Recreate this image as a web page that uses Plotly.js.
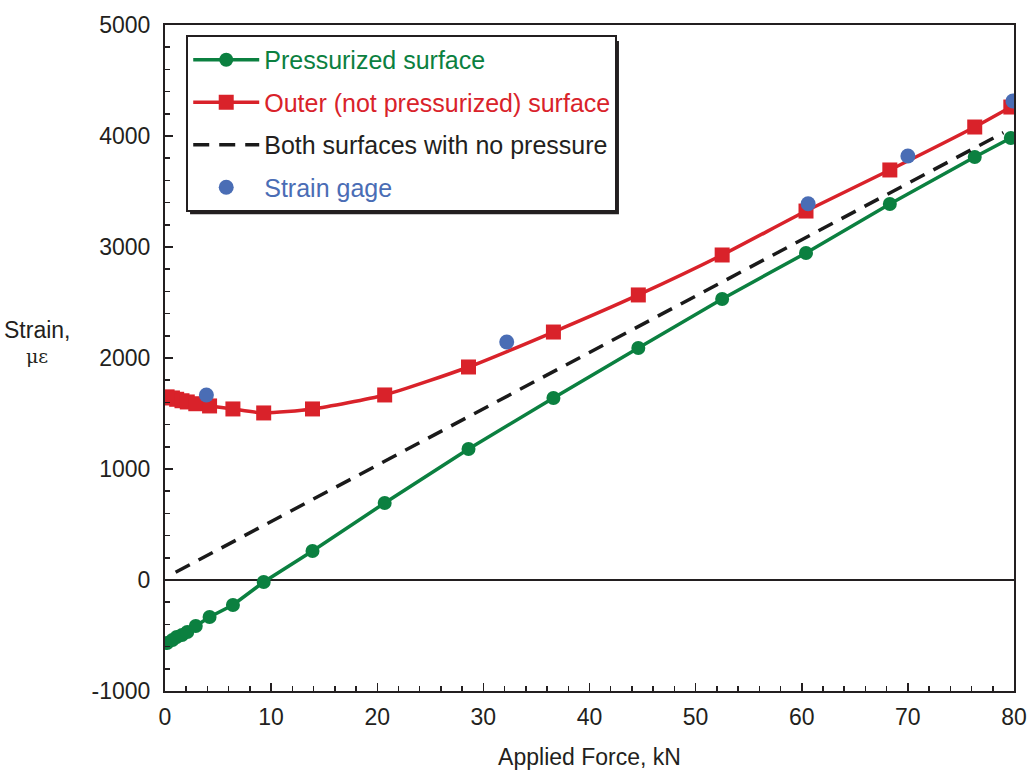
<!DOCTYPE html>
<html>
<head>
<meta charset="utf-8">
<script src="https://cdn.plot.ly/plotly-3.0.1.min.js"></script>
<style>html,body{margin:0;padding:0;background:#fff;}</style>
</head>
<body>
<div id="chart" style="width:1029px;height:770px;"></div>
<script>
// Applied force (kN)
const forceKN = [0.2, 0.7, 1.1, 1.6, 2.1, 2.9, 4.2, 6.4, 9.3, 13.9, 20.7, 28.6, 36.6, 44.6, 52.5, 60.4, 68.3, 76.3, 79.7];
// Pressurized surface strain (microstrain)
const pressurized = [-568, -541, -513, -495, -468, -414, -333, -225, -18, 261, 694, 1180, 1640, 2090, 2532, 2946, 3387, 3811, 3982];
// Outer (not pressurized) surface strain
const outer = [1650, 1640, 1628, 1615, 1604, 1588, 1568, 1541, 1505, 1541, 1667, 1919, 2234, 2568, 2928, 3324, 3694, 4081, 4261];
// Both surfaces with no pressure
const noPressureX = [1, 79];
const noPressureY = [70, 4030];
// Strain gage readings
const gageX = [3.9, 32.2, 60.6, 70.0, 79.9];
const gageY = [1667, 2144, 3390, 3820, 4315];
// Tick labels
const xTicks = [0, 10, 20, 30, 40, 50, 60, 70, 80];
const xTickText = ['0', '10', '20', '30', '40', '50', '60', '70', '80'];
const yTicks = [-1000, 0, 1000, 2000, 3000, 4000, 5000];
const yTickText = ['-1000', '0', '1000', '2000', '3000', '4000', '5000'];

const GREEN = '#0b8040', RED = '#d9222a', BLUE = '#4a6db5', INK = '#231f20';
const FONT = 'Liberation Sans, Arial, Helvetica, sans-serif';

const lbl = (t, c) => '<span style="color:' + c + '">' + t + '</span>';

const traces = [
  {x: forceKN, y: pressurized, name: lbl('Pressurized surface', GREEN), mode: 'lines+markers',
   line: {color: GREEN, width: 3.5}, marker: {symbol: 'circle', size: 14, color: GREEN},
   legendgroup: 'a'},
  {x: forceKN, y: outer, name: lbl('Outer (not pressurized) surface', RED), mode: 'lines+markers',
   line: {color: RED, width: 3.5, shape: 'spline', smoothing: 0.6}, marker: {symbol: 'square', size: 15, color: RED},
   legendgroup: 'b'},
  {x: noPressureX, y: noPressureY, name: lbl('Both surfaces with no pressure', INK), mode: 'lines',
   line: {color: '#1a1a1a', width: 3.5, dash: '16px,10px'}, legendgroup: 'c'},
  {x: gageX, y: gageY, name: lbl('Strain gage', BLUE), mode: 'markers',
   marker: {symbol: 'circle', size: 15, color: BLUE}, legendgroup: 'd'}
];

const layout = {
  width: 1029, height: 770,
  margin: {l: 165, r: 15, t: 25, b: 79},
  paper_bgcolor: '#fff', plot_bgcolor: '#fff',
  font: {family: FONT, size: 22, color: INK},
  showlegend: true,
  legend: {
    x: 0.025, y: 0.985, xanchor: 'left', yanchor: 'top',
    bgcolor: '#fff', bordercolor: INK, borderwidth: 2,
    font: {family: FONT, size: 25},
    traceorder: 'grouped', tracegroupgap: 7,
    itemwidth: 66
  },
  xaxis: {
    range: [0, 80], tickvals: xTicks, ticktext: xTickText, showgrid: false, zeroline: false,
    showline: true, linecolor: INK, linewidth: 2, mirror: true,
    ticks: 'inside', ticklen: 8, tickwidth: 1.5, tickcolor: INK,
    minor: {dtick: 2, ticks: 'inside', ticklen: 5, tickwidth: 1.5, tickcolor: INK, showgrid: false},
    tickfont: {size: 23}, ticklabelstandoff: 4,
    title: {text: 'Applied Force, kN', font: {size: 23}, standoff: 20}
  },
  yaxis: {
    range: [-1000, 5000], tickvals: yTicks, ticktext: yTickText, showgrid: false,
    zeroline: true, zerolinecolor: INK, zerolinewidth: 1.2,
    showline: true, linecolor: INK, linewidth: 2, mirror: true,
    ticks: 'inside', ticklen: 8, tickwidth: 1.5, tickcolor: INK,
    minor: {dtick: 200, ticks: 'inside', ticklen: 5, tickwidth: 1.5, tickcolor: INK, showgrid: false},
    tickfont: {size: 23}, ticklabelstandoff: 8
  },
  annotations: [
    {xref: 'paper', yref: 'paper', x: -0.151, y: 0.542, xanchor: 'center', yanchor: 'middle',
     text: 'Strain,', showarrow: false, font: {size: 23}},
    {xref: 'paper', yref: 'paper', x: -0.151, y: 0.503, xanchor: 'center', yanchor: 'middle',
     text: 'με', showarrow: false, font: {size: 19, family: 'DejaVu Serif, serif'}}
  ],
  shapes: [
    {type: 'rect', xref: 'paper', yref: 'paper', x0: 0.0295, x1: 0.5347, y0: 0.716, y1: 0.976,
     fillcolor: INK, line: {width: 0}, layer: 'above'}
  ]
};

Plotly.newPlot('chart', traces, layout, {displayModeBar: false, staticPlot: true});
</script>
</body>
</html>
